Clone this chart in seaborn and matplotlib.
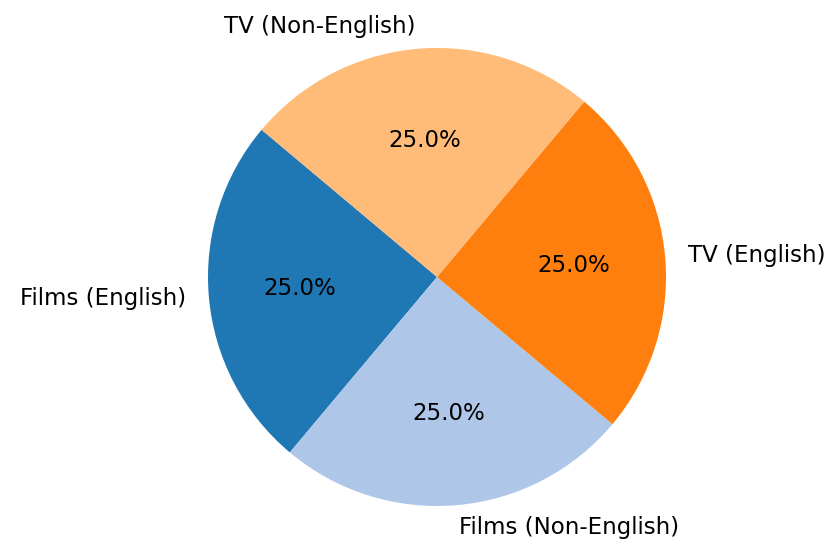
import matplotlib
matplotlib.use("Agg")
import matplotlib.pyplot as plt
import seaborn as sns

# categories and values
labels = ['Films (English)', 'Films (Non-English)', 'TV (English)', 'TV (Non-English)']
counts = [25, 25, 25, 25]

colors = sns.color_palette('tab20')[:4]

fig = plt.figure(figsize=(8.33, 5.43), dpi=100)
ax = fig.add_axes([0, 0, 1, 1])

ax.pie(counts, labels=labels, colors=colors, autopct='%1.1f%%', startangle=140,
       textprops={'fontsize': 16.5})

# place the pie the same way as the reference (radius ~230 px)
r = 229
ax.set_xlim(-437 / r, (833 - 437) / r)
ax.set_ylim(-266 / r, 277 / r)
ax.set_aspect('equal')
ax.axis('off')

fig.savefig('out.png', dpi=100)
